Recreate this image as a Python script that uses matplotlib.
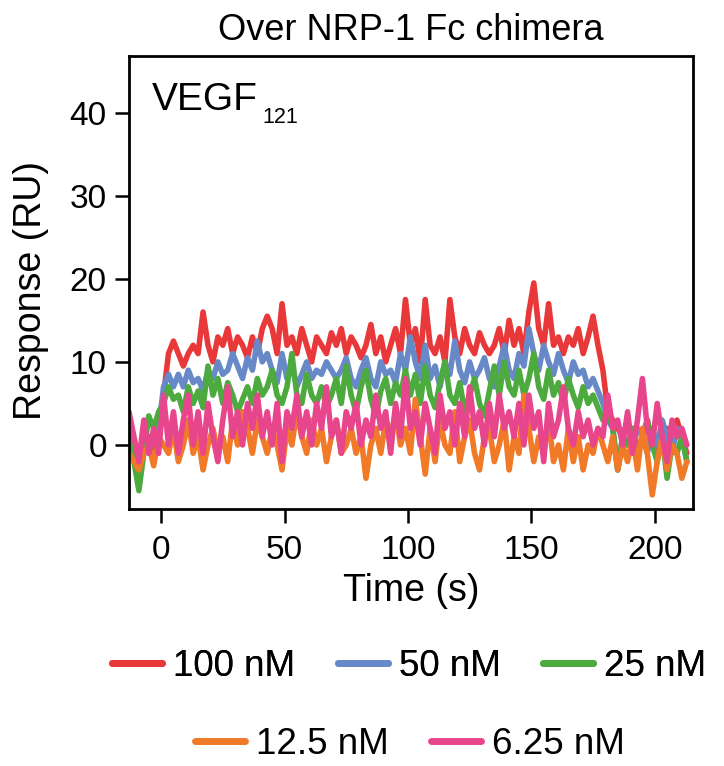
import numpy as np
import matplotlib
matplotlib.use("Agg")
import matplotlib.pyplot as plt
from matplotlib.lines import Line2D

plt.rcParams['font.family'] = ['Liberation Sans', 'DejaVu Sans']

# ---- data (time grid starts at -13 s, one sample every 2 s) ----
t_start = -13
t_step = 2

labels = ["100 nM", "50 nM", "25 nM", "12.5 nM", "6.25 nM"]
colors = ["#E8383A", "#6889C8", "#4DAA3E", "#F07A28", "#E8468C"]

red = [2, 0, -2, 0, 1, -1, 2, 6, 11, 12.5, 11, 9.5, 11, 12, 11, 16, 12, 10, 13, 12,
       14, 11, 13, 12, 10.5, 13, 11, 14, 15.5, 14, 11, 17, 12, 13, 11, 14, 12, 10, 13, 12,
       11, 13.5, 12, 14, 11, 13, 12, 10.5, 12, 14.5, 11, 13, 10, 12, 14, 11, 17.5, 12, 14, 10,
       17.5, 12, 11, 13, 10, 17.5, 13, 11, 14, 12, 11, 13.5, 12, 11, 12, 14, 11, 15, 12, 14,
       11, 16, 19.5, 14, 12, 17, 12, 13, 11, 13, 12, 14, 11, 13, 15.5, 12, 9, 4, 3, 2,
       1, 0, 2, -1, 1, 3, 0, -1, 1, 2, 0, 3, 1, -1]

blue = [1, -1, -2, 0, -1, 1, 2, 7, 8.5, 7, 8.5, 7, 9, 7.5, 8, 6.5, 9, 8, 10, 8.5,
        9, 11, 9.5, 8, 10.5, 9, 12.5, 10, 11, 9, 7.5, 11, 8, 9.5, 7, 8.5, 10, 8, 9, 8.5,
        10, 9, 8, 9, 10.5, 8, 7, 9, 10.5, 8, 7, 10, 8.5, 9, 7.5, 11, 9, 13, 10, 8,
        12, 8, 9.5, 7, 10, 8.5, 12.5, 9, 7.5, 10, 8, 9, 10.5, 8, 7, 9.5, 12, 9, 8, 11,
        9.5, 14, 11, 9, 12, 10, 8.5, 11, 9, 7.5, 10, 8.5, 9, 7, 8, 6.5, 5, 3, 2, -3,
        1, 3, 0, 2, 1, -1, 2, 0, 3, 1, -1, 2, 1, -2]

green = [1, -2, -5.5, -1, 3.5, 2, 4, 5, 7, 5.5, 6, 4, 7, 5, 6.5, 4.5, 9.5, 6, 8, 5,
         7.5, 6, 4, 5.5, 7, 5, 8, 6, 7, 9, 6, 5, 7, 11, 6, 5, 8.5, 6, 5, 7,
         4.5, 6, 8, 5, 9.5, 6, 4, 7, 9, 5.5, 3.5, 6.5, 8, 5, 7.5, 6, 9, 6, 8.5, 5,
         9.5, 6, 4.5, 7.5, 10, 6, 5, 7.5, 4, 6, 8, 5, 3.5, 6.5, 9.5, 6, 10, 7, 6, 9,
         6, 8, 11, 7, 5.5, 9, 6, 7.5, 5, 8, 6, 4.5, 7, 5, 6, 4.5, 3, 4, 2, -3,
         1, 0, 2, -1, 1, 3, 0, -2, 1, -4, 0, -1, 1, -2]

orange = [-1, -2, -3, -1, 0, -2.5, 1, 0, -1, 2, -2, 0, 3, -1, 1, -3, 0, 2, -1, 1,
          -2, 3, 0, 4, 2, -1, 3, 1, -1, 2, 0, -3, 2, 0, 4, 1, -1, 3, 0, 2,
          -2, 1, 3, -1, 0, 2, -1, 1, -4, 0, 2, -1, 3, 1, 4, 0, 2, -1, 5.5, 1,
          -3.5, 2, -2, 3, 0, -1, 4, -2, 1, 3, -1, -3, 1, 2, -2, 0, 3, -3, 1, -1,
          6, 2, -2, 1, -1, 3, -2, 0, -3, 2, -2, 1, -3, 0, -1, 2, 0, -2, 1, -3,
          0, -2, 1, -3, 2, -1, -6, -2, 1, -3, 0, -1, -4, -2]

pink = [4, 1, -2, 3, -1, 2, -1, 6, 0, 4, -1, 3, 6, 0, 4, -1, 5, 1, -2, 3,
        7, 1, 4, 0, 5, 2, 6, 1, 4, 0, 5, -2, 4, 2, 6, 1, 4, 0, 5, 2,
        7, 1, 3, -1, 4, 2, 5, 0, 3, 1, 6, 2, 4, -1, 5, 1, 8, 2, 4, 0,
        5, 2, -1, 6, 2, 4, 0, 5, 1, 7, 2, 4, 0, 5, 1, 6, 2, 4, 1, 5,
        0, 6, 2, 4, -2, 5, 1, 3, 7, 2, 0, 4, 1, 3, 0, 2, 1, 6, 2, 3,
        0, 4, -1, 3, 8, 2, 0, 5, 1, -2, 3, 1, 2, 0]

series = [red, blue, green, orange, pink]

x_ticks = [0, 50, 100, 150, 200]
y_ticks = [0, 10, 20, 30, 40]

# ---- figure ----
W, H = 724, 766
fig = plt.figure(figsize=(W / 100, H / 100), dpi=100)
ax = fig.add_axes([129 / W, 1 - 509 / H, (693 - 129) / W, (509 - 56) / H])

for vals, c in zip(series, colors):
    v = np.asarray(vals, dtype=float)
    t = t_start + t_step * np.arange(len(v))
    ax.plot(t, v, color=c, lw=4.0, solid_joinstyle='round', solid_capstyle='round')

ax.set_xlim(-13, 215.5)
ax.set_ylim(-7.7, 46.8)
ax.set_xticks(x_ticks)
ax.set_yticks(y_ticks)
for s in ax.spines.values():
    s.set_linewidth(2.0)
    s.set_color('black')
ax.tick_params(axis='both', direction='out', length=10, width=1.8, labelsize=24, colors='black')
ax.tick_params(axis='x', pad=9)
ax.tick_params(axis='y', pad=6)

# titles / labels
fig.text(411 / W, 1 - 40 / H, "Over NRP-1 Fc chimera", ha='center', va='baseline', fontsize=26)
fig.text(411 / W, 1 - 601 / H, "Time (s)", ha='center', va='baseline', fontsize=27)
fig.text(31 / W, 1 - 290 / H, "Response (RU)", ha='center', va='center', rotation=90, fontsize=27)
fig.text(152 / W, 1 - 110 / H, "VEGF", ha='left', va='baseline', fontsize=28)
fig.text(262 / W, 1 - 123 / H, "121", ha='left', va='baseline', fontsize=15.5)

# legend (two rows)
handles = [Line2D([], [], color=c, lw=5, solid_capstyle='round') for c in colors]
kw = dict(frameon=False, fontsize=26.5, handlelength=1.36, handletextpad=0.3,
          columnspacing=1.15, borderpad=0, borderaxespad=0, loc='center')
leg1 = fig.legend(handles[:3], labels[:3], ncol=3, bbox_to_anchor=(409 / W, 1 - 666 / H), **kw)
fig.add_artist(leg1)
fig.legend(handles[3:], labels[3:], ncol=2, bbox_to_anchor=(410 / W, 1 - 744 / H), **kw)

fig.savefig("out.png", dpi=100)
